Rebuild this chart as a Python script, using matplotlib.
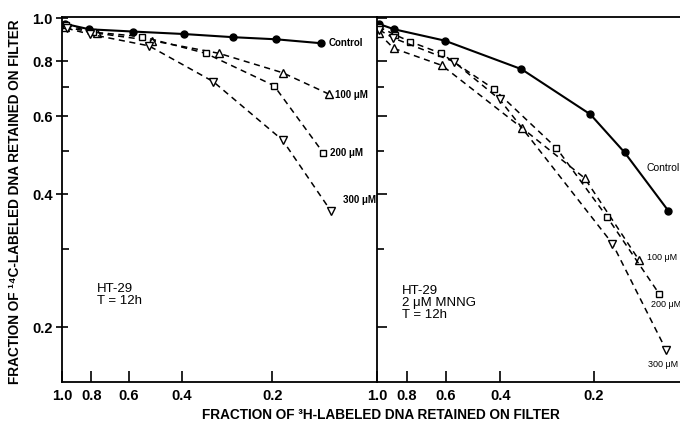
import numpy as np
import matplotlib
matplotlib.use("Agg")
import matplotlib.pyplot as plt
from matplotlib.ticker import FixedLocator, NullFormatter, NullLocator, FixedFormatter

plt.rcParams['font.family'] = ['Liberation Sans', 'DejaVu Sans']

#### data (x: fraction 3H retained, y: fraction 14C retained)

# left panel : HT-29, T = 12h
l_ctrl_x = [0.977, 0.811, 0.58, 0.393, 0.27, 0.194, 0.138]
l_ctrl_y = [0.971, 0.944, 0.933, 0.921, 0.906, 0.896, 0.878]
l_100_x = [0.975, 0.767, 0.503, 0.301, 0.185, 0.130]
l_100_y = [0.955, 0.925, 0.890, 0.833, 0.753, 0.674]
l_200_x = [0.970, 0.79, 0.544, 0.333, 0.1975, 0.1355]
l_200_y = [0.966, 0.93, 0.909, 0.833, 0.704, 0.496]
l_300_x = [0.965, 0.807, 0.514, 0.3145, 0.185, 0.128]
l_300_y = [0.949, 0.920, 0.866, 0.719, 0.530, 0.367]

# right panel : HT-29, 2 uM MNNG, T = 12h
r_ctrl_x = [0.988, 0.88, 0.605, 0.342, 0.205, 0.159, 0.115]
r_ctrl_y = [0.971, 0.944, 0.89, 0.767, 0.606, 0.497, 0.367]
r_100_x = [0.988, 0.884, 0.617, 0.340, 0.214, 0.143]
r_100_y = [0.925, 0.855, 0.782, 0.564, 0.435, 0.284]
r_200_x = [0.988, 0.873, 0.781, 0.622, 0.420, 0.264, 0.181, 0.123]
r_200_y = [0.956, 0.917, 0.885, 0.833, 0.692, 0.509, 0.355, 0.238]
r_300_x = [0.983, 0.886, 0.566, 0.402, 0.174, 0.117]
r_300_y = [0.941, 0.902, 0.798, 0.655, 0.309, 0.178]

x_ticks = [1.0, 0.8, 0.6, 0.4, 0.2]
x_ticklabels = ['1.0', '0.8', '0.6', '0.4', '0.2']
y_ticks = [0.2, 0.4, 0.6, 0.8, 1.0]
y_ticklabels = ['0.2', '0.4', '0.6', '0.8', '1.0']
y_minor = [0.3, 0.5, 0.7]

dose_labels = ['100 \u03bcM', '200 \u03bcM', '300 \u03bcM']


def setup_axis(ax, xmin, show_ylabels):
    ax.set_xscale('log')
    ax.set_yscale('log')
    ax.set_xlim(1.0, xmin)
    ax.set_ylim(0.1506, 1.008)
    ax.xaxis.set_major_locator(FixedLocator(x_ticks))
    ax.xaxis.set_major_formatter(FixedFormatter(x_ticklabels))
    ax.xaxis.set_minor_locator(NullLocator())
    ax.yaxis.set_major_locator(FixedLocator(y_ticks))
    ax.yaxis.set_minor_locator(FixedLocator(y_minor))
    ax.yaxis.set_minor_formatter(NullFormatter())
    if show_ylabels:
        ax.yaxis.set_major_formatter(FixedFormatter(y_ticklabels))
        ax.tick_params(axis='y', which='major', direction='inout', length=9, width=1.2, pad=2)
    else:
        ax.yaxis.set_major_formatter(NullFormatter())
        ax.tick_params(axis='y', which='major', direction='in', length=7, width=1.2)
    ax.tick_params(axis='y', which='minor', direction='in', length=5, width=1.2)
    ax.tick_params(axis='x', which='major', direction='in', length=8, width=1.2, pad=5)
    ax.tick_params(labelsize=10.5)
    for lab in ax.get_xticklabels() + ax.get_yticklabels():
        lab.set_fontweight('bold')
    for sp in ax.spines.values():
        sp.set_linewidth(1.3)
    ax.spines['right'].set_visible(False)


def plot_panel(ax, ctrl, d100, d200, d300):
    ax.plot(ctrl[0], ctrl[1], '-', color='black', lw=1.5, marker='o', ms=5, mfc='black')
    dash = (0, (4, 3))
    ax.plot(d100[0], d100[1], color='black', lw=1.1, ls=dash, marker='^', ms=6, mfc='white', mew=1)
    ax.plot(d200[0], d200[1], color='black', lw=1.1, ls=dash, marker='s', ms=5, mfc='white', mew=1)
    ax.plot(d300[0], d300[1], color='black', lw=1.1, ls=dash, marker='v', ms=6, mfc='white', mew=1)


fig = plt.figure(figsize=(6.8, 4.24), dpi=100)
bottom = 1 - 381.7 / 424
height = (381.7 - 16.7) / 424
ax1 = fig.add_axes([62 / 680, bottom, 315 / 680, height])
ax2 = fig.add_axes([377 / 680, bottom, 315 / 680, height])

plot_panel(ax1, (l_ctrl_x, l_ctrl_y), (l_100_x, l_100_y), (l_200_x, l_200_y), (l_300_x, l_300_y))
plot_panel(ax2, (r_ctrl_x, r_ctrl_y), (r_100_x, r_100_y), (r_200_x, r_200_y), (r_300_x, r_300_y))

setup_axis(ax1, 0.0898, True)
setup_axis(ax2, 0.0964, False)

# series labels
ax1.text(0.1297, 0.881, 'Control', fontsize=7, fontweight='bold', va='center')
ax1.text(0.1239, 0.671, dose_labels[0], fontsize=7, fontweight='bold', va='center')
ax1.text(0.1285, 0.496, dose_labels[1], fontsize=7, fontweight='bold', va='center')
ax1.text(0.1165, 0.387, dose_labels[2], fontsize=7, fontweight='bold', va='center')

ax2.text(0.1353, 0.4585, 'Control', fontsize=7.5, va='center')
ax2.text(0.1343, 0.288, dose_labels[0], fontsize=6.5, va='center')
ax2.text(0.1306, 0.2246, dose_labels[1], fontsize=6.5, va='center')
ax2.text(0.1333, 0.165, dose_labels[2], fontsize=6.5, va='center')

ax1.text(0.111, 0.27, 'HT-29\nT = 12h', transform=ax1.transAxes, fontsize=9.5,
         va='top', ha='left', linespacing=1.0)
ax2.text(0.078, 0.265, 'HT-29\n2 \u03bcM MNNG\nT = 12h', transform=ax2.transAxes, fontsize=9.5,
         va='top', ha='left', linespacing=1.0)

fig.text(0.560, 0.022, 'FRACTION OF \u00b3H-LABELED DNA RETAINED ON FILTER',
         ha='center', va='center', fontsize=9.8, fontweight='bold')
fig.text(0.022, 0.524, 'FRACTION OF \u00b9\u2074C-LABELED DNA RETAINED ON FILTER',
         ha='center', va='center', rotation=90, fontsize=9.8, fontweight='bold')

fig.savefig('out.png', dpi=100)
